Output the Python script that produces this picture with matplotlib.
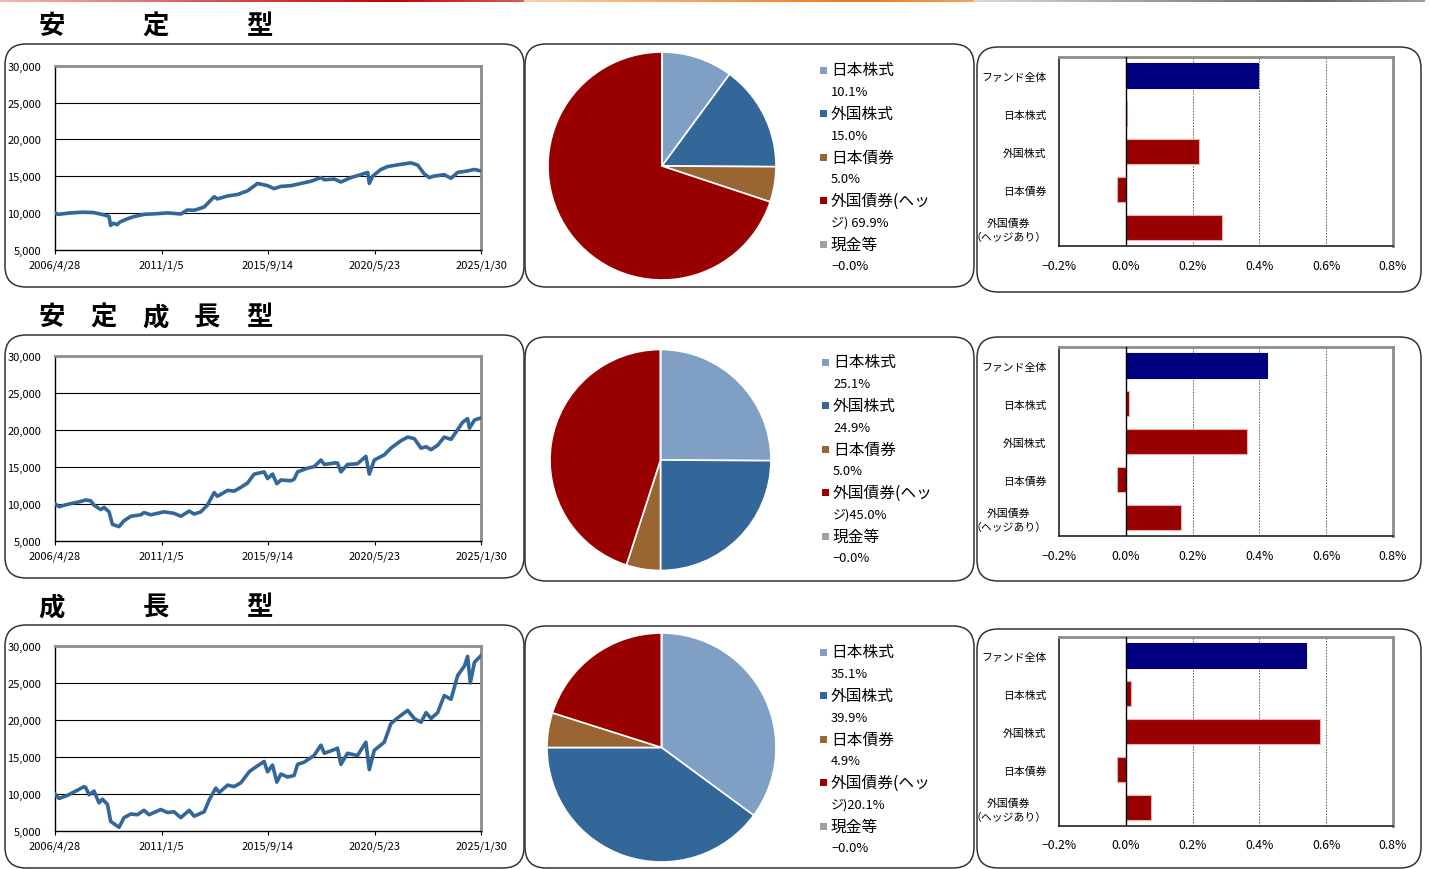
import numpy as np
import matplotlib
matplotlib.use('Agg')
import matplotlib.pyplot as plt
from matplotlib.patches import FancyBboxPatch, Rectangle
import datetime as dt

plt.rcParams['font.family'] = ['Noto Sans CJK JP', 'DejaVu Sans']

W, H = 1430, 870

# ---------------- data ----------------
titles = [['安', '定', '型'], ['安', '定', '成', '長', '型'], ['成', '長', '型']]
tick_dates = ['2006/4/28', '2011/1/5', '2015/9/14', '2020/5/23', '2025/1/30']
ytick_vals = [5000, 10000, 15000, 20000, 25000, 30000]

# 基準価額推移 (decimal year, value)
stable_t = [2006.32, 2006.45, 2006.86, 2007.03, 2007.53, 2008.02, 2008.52, 2008.70, 2008.77, 2008.90,
            2009.05, 2009.20, 2009.51, 2009.80, 2010.24, 2010.83, 2011.27, 2011.86, 2012.15, 2012.45,
            2012.89, 2013.33, 2013.47, 2013.92, 2014.36, 2014.80, 2015.24, 2015.68, 2015.97, 2016.27,
            2016.71, 2017.15, 2017.59, 2018.03, 2018.18, 2018.62, 2018.91, 2019.35, 2019.79, 2020.09,
            2020.16, 2020.31, 2020.67, 2020.97, 2021.55, 2022.00, 2022.29, 2022.58, 2022.80, 2023.02,
            2023.46, 2023.76, 2024.05, 2024.49, 2024.79, 2025.08]
stable_v = [10000, 9800, 9950, 10000, 10100, 10050, 9700, 9500, 8300, 8600,
            8400, 8800, 9200, 9500, 9800, 9900, 10000, 9850, 10400, 10350,
            10800, 12200, 11900, 12300, 12500, 13000, 14000, 13700, 13300, 13600,
            13700, 14000, 14300, 14800, 14500, 14600, 14200, 14800, 15200, 15500,
            14000, 15000, 15900, 16300, 16600, 16800, 16500, 15300, 14800, 15000,
            15200, 14700, 15500, 15700, 15900, 15700]

balanced_t = [2006.32, 2006.50, 2006.86, 2007.45, 2007.67, 2007.89, 2008.04, 2008.33, 2008.48, 2008.70,
              2008.85, 2009.14, 2009.36, 2009.66, 2010.10, 2010.24, 2010.54, 2011.12, 2011.56, 2011.86,
              2012.23, 2012.45, 2012.74, 2013.03, 2013.33, 2013.47, 2013.92, 2014.21, 2014.50, 2014.80,
              2015.09, 2015.53, 2015.68, 2015.90, 2016.09, 2016.27, 2016.71, 2016.85, 2017.00, 2017.44,
              2017.73, 2018.03, 2018.18, 2018.62, 2018.76, 2018.91, 2019.20, 2019.64, 2020.01, 2020.16,
              2020.38, 2020.82, 2021.11, 2021.55, 2021.85, 2022.14, 2022.44, 2022.66, 2022.88, 2023.17,
              2023.46, 2023.76, 2024.05, 2024.27, 2024.49, 2024.57, 2024.79, 2025.08]
balanced_v = [10000, 9600, 9900, 10300, 10500, 10400, 9800, 9200, 9500, 8900,
              7200, 6900, 7700, 8300, 8500, 8800, 8500, 8900, 8700, 8300,
              9000, 8600, 8900, 9800, 11500, 11000, 11800, 11700, 12200, 12800,
              14000, 14300, 13400, 14000, 12700, 13200, 13100, 13300, 14300, 14800,
              15000, 15900, 15300, 15500, 15500, 14300, 15300, 15400, 16400, 14000,
              15900, 16600, 17500, 18500, 19000, 18800, 17500, 17700, 17300, 17900,
              19000, 18700, 20000, 21000, 21500, 20200, 21300, 21600]

growth_t = [2006.32, 2006.50, 2006.86, 2007.30, 2007.60, 2007.67, 2007.82, 2008.04, 2008.26, 2008.41,
            2008.63, 2008.77, 2009.14, 2009.36, 2009.66, 2009.95, 2010.24, 2010.46, 2010.98, 2011.27,
            2011.56, 2011.86, 2012.23, 2012.45, 2012.89, 2013.11, 2013.40, 2013.55, 2013.92, 2014.21,
            2014.50, 2014.87, 2015.09, 2015.53, 2015.68, 2015.90, 2016.09, 2016.27, 2016.56, 2016.85,
            2017.00, 2017.29, 2017.73, 2018.03, 2018.18, 2018.62, 2018.76, 2018.91, 2019.20, 2019.64,
            2020.01, 2020.16, 2020.38, 2020.82, 2021.11, 2021.41, 2021.85, 2022.14, 2022.44, 2022.66,
            2022.88, 2023.17, 2023.46, 2023.76, 2024.05, 2024.35, 2024.49, 2024.61, 2024.79, 2025.08]
growth_v = [10000, 9400, 9800, 10500, 11000, 10900, 9900, 10400, 8800, 9300,
            8600, 6300, 5500, 6800, 7300, 7200, 7800, 7200, 7900, 7500,
            7600, 6800, 7800, 7000, 7600, 9200, 10800, 10200, 11200, 11000,
            11500, 13000, 13500, 14400, 13000, 13900, 11600, 12700, 12300, 12500,
            14000, 14300, 15200, 16600, 15500, 16000, 16200, 14000, 15500, 15200,
            17000, 13300, 15900, 17000, 19500, 20300, 21300, 20200, 19700, 21000,
            20200, 21000, 23300, 22800, 26000, 27300, 28600, 25000, 27800, 28700]

# 資産配分 (%)
asset_labels = ['日本株式', '外国株式', '日本債券', '外国債券(ヘッジ)', '現金等']
asset_colors = ['#7F9FC4', '#336699', '#996633', '#990000', '#A0A0A0']
stable_alloc = [10.1, 15.0, 5.0, 69.9, -0.0]
balanced_alloc = [25.1, 24.9, 5.0, 45.0, -0.0]
growth_alloc = [35.1, 39.9, 4.9, 20.1, -0.0]
wrap_sep = [' ', '', '']

# 寄与度 (%)
bar_cats = ['ファンド全体', '日本株式', '外国株式', '日本債券', '外国債券\n（ヘッジあり）']
bar_xticks = [-0.2, 0.0, 0.2, 0.4, 0.6, 0.8]
stable_contrib = [0.395, 0.005, 0.220, -0.026, 0.289]
balanced_contrib = [0.423, 0.011, 0.364, -0.027, 0.165]
growth_contrib = [0.540, 0.015, 0.582, -0.027, 0.076]

series_t = [stable_t, balanced_t, growth_t]
series_v = [stable_v, balanced_v, growth_v]
allocs = [stable_alloc, balanced_alloc, growth_alloc]
contribs = [stable_contrib, balanced_contrib, growth_contrib]

# ---------------- layout (pixels) ----------------
rows = [
    dict(title_y=27, line_box=(5, 45, 524, 288), pie_box=(525, 45, 974, 288), bar_box=(977, 48, 1421, 293),
         line_ax=(55, 66.7, 481, 250.7), pie_c=(662, 167, 114), leg=(820, 71), bar_ax=(1059, 58, 1393, 247),
         title_x=[52, 156, 259]),
    dict(title_y=318, line_box=(5, 336, 524, 579), pie_box=(525, 338, 974, 582), bar_box=(977, 338, 1421, 582),
         line_ax=(55, 356.7, 481, 541.7), pie_c=(660.5, 461, 110.5), leg=(822, 363), bar_ax=(1059, 348, 1393, 537),
         title_x=[52, 104, 156, 207, 259]),
    dict(title_y=608, line_box=(5, 626, 524, 869), pie_box=(525, 627, 974, 869), bar_box=(977, 630, 1421, 869),
         line_ax=(55, 647, 481, 832), pie_c=(661.5, 748.5, 114.5), leg=(820, 653), bar_ax=(1059, 638, 1393, 827),
         title_x=[52, 156, 259]),
]


def rect(x0, y0, x1, y1):
    return [x0 / W, 1 - y1 / H, (x1 - x0) / W, (y1 - y0) / H]


def fx(x):
    return x / W


def fy(y):
    return 1 - y / H


def dec_year(s):
    d = dt.datetime.strptime(s, '%Y/%m/%d')
    start = dt.datetime(d.year, 1, 1)
    n = (dt.datetime(d.year + 1, 1, 1) - start).days
    return d.year + (d - start).days / n


fig = plt.figure(figsize=(W / 100, H / 100), dpi=100)
fig.patch.set_facecolor('white')

# top decorative gradient line
ax_top = fig.add_axes(rect(0, 0, 1425, 2.5))
ax_top.axis('off')
n = 1425
grad = np.ones((1, n, 3))
segs = [(0, 524, (0.96, 0.72, 0.72), (0.75, 0.0, 0.0)),
        (524, 974, (0.98, 0.82, 0.65), (0.93, 0.47, 0.10)),
        (974, 1425, (0.85, 0.85, 0.85), (0.40, 0.40, 0.40))]
for a, b, c0, c1 in segs:
    m = b - a
    u = np.linspace(0, 1, m)
    w = np.clip(np.minimum(u / 0.75, (1 - u) / 0.25 * 0.5 + 0.5), 0, 1)
    for k in range(3):
        grad[0, a:b, k] = c0[k] + (c1[k] - c0[k]) * w
ax_top.imshow(grad, aspect='auto', extent=[0, 1, 0, 1])


def add_box(b):
    x0, y0, x1, y1 = b
    p = FancyBboxPatch((x0 / 100, (H - y1) / 100), (x1 - x0) / 100, (y1 - y0) / 100,
                       boxstyle='round,pad=0,rounding_size=0.21', transform=fig.dpi_scale_trans,
                       facecolor='none', edgecolor='#333333', linewidth=1.1, zorder=0)
    fig.add_artist(p)


x0d, x1d = dec_year(tick_dates[0]), dec_year(tick_dates[-1])
tick_pos = [dec_year(s) for s in tick_dates]

for i, r in enumerate(rows):
    # title
    for ch, tx in zip(titles[i], r['title_x']):
        fig.text(fx(tx), fy(r['title_y']), ch, fontsize=19, fontweight='bold',
                 ha='center', va='center', color='black')

    for b in (r['line_box'], r['pie_box'], r['bar_box']):
        add_box(b)

    # ---- line chart ----
    ax = fig.add_axes(rect(*r['line_ax']))
    ax.plot(series_t[i], series_v[i], color='#336699', lw=2.6, solid_joinstyle='round', zorder=3)
    ax.set_xlim(x0d, x1d)
    ax.set_ylim(5000, 30000)
    ax.set_yticks(ytick_vals)
    ax.set_yticklabels([f'{v:,}' for v in ytick_vals], fontsize=8)
    ax.set_xticks(tick_pos)
    ax.set_xticklabels(tick_dates, fontsize=8)
    for yv in ytick_vals[1:-1]:
        ax.axhline(yv, color='black', lw=0.8, zorder=1)
    ax.tick_params(axis='y', length=0, pad=10)
    ax.tick_params(axis='x', length=3, width=0.8, pad=4, direction='out')
    for s in ('left', 'bottom'):
        ax.spines[s].set_color('black')
        ax.spines[s].set_linewidth(1.0)
    for s in ('top', 'right'):
        ax.spines[s].set_color('#8C8C8C')
        ax.spines[s].set_linewidth(2.0)

    # ---- pie ----
    cx, cy, rad = r['pie_c']
    axp = fig.add_axes(rect(cx - rad, cy - rad, cx + rad, cy + rad))
    vals = np.maximum(np.array(allocs[i]), 0)
    axp.pie(vals, colors=asset_colors, startangle=90, counterclock=False, radius=1,
            wedgeprops=dict(edgecolor='white', linewidth=1.2))
    axp.set_xlim(-1.0, 1.0)
    axp.set_ylim(-1.0, 1.0)
    axp.axis('off')

    # legend
    lx, ly = r['leg']
    step = 43.6
    for k, (lab, col, v) in enumerate(zip(asset_labels, asset_colors, allocs[i])):
        yy = ly + k * step
        fig.add_artist(Rectangle((fx(lx), fy(yy + 3.5)), 7 / W, 7 / H, transform=fig.transFigure,
                                 facecolor=col, edgecolor='none'))
        vtxt = f'{v:.1f}%'.replace('-', '−')
        if len(lab) > 7:
            l1, l2 = lab[:7], lab[7:] + wrap_sep[i] + vtxt
        else:
            l1, l2 = lab, vtxt
        fig.text(fx(lx + 11), fy(yy), l1, fontsize=11.3, ha='left', va='center')
        fig.text(fx(lx + 11), fy(yy + 21.5), l2, fontsize=9.3, ha='left', va='center')

    # ---- bar chart ----
    axb = fig.add_axes(rect(*r['bar_ax']))
    y = np.arange(len(bar_cats))
    cols = ['#000080'] + ['#990000'] * (len(bar_cats) - 1)
    edges = ['#000080'] + ['#E8B0B0'] * (len(bar_cats) - 1)
    axb.barh(y, contribs[i], height=0.66, color=cols, edgecolor=edges, linewidth=0.8, zorder=3)
    axb.set_ylim(len(bar_cats) - 0.5, -0.5)
    axb.set_xlim(-0.2, 0.8)
    axb.set_xticks(bar_xticks)
    axb.set_xticklabels([f'{v:.1f}%'.replace('-', '−') for v in bar_xticks], fontsize=8.8)
    axb.set_yticks(y)
    axb.set_yticklabels(bar_cats, fontsize=7.8, ma='center', linespacing=1.45)
    axb.tick_params(axis='y', length=0, pad=9)
    axb.tick_params(axis='x', length=0, pad=9)
    for xv in (0.2, 0.4, 0.6):
        axb.axvline(xv, color='#555555', lw=0.6, ls=(0, (2, 1.5)), zorder=1)
    axb.axvline(0, color='black', lw=1.0, zorder=4)
    for s in ('left', 'bottom'):
        axb.spines[s].set_color('#222222')
        axb.spines[s].set_linewidth(1.2)
    for s in ('top', 'right'):
        axb.spines[s].set_color('#8C8C8C')
        axb.spines[s].set_linewidth(2.0)

fig.savefig('out.png', dpi=100, facecolor='white')
